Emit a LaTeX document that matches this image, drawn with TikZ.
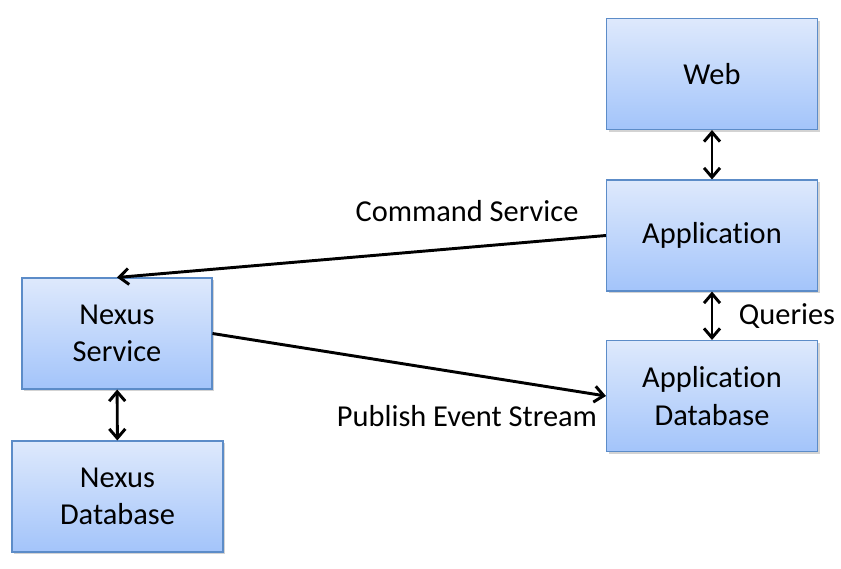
\documentclass[tikz,border=0pt]{standalone}
\usepackage{fontspec}
\setmainfont{Carlito}[Ligatures=NoCommon]
\usepackage{tikz}
\usetikzlibrary{arrows.meta,shadows}
\usetikzlibrary{positioning}

\definecolor{boxtop}{RGB}{222,233,252}
\definecolor{boxbot}{RGB}{163,196,250}
\definecolor{boxline}{RGB}{92,140,200}

\tikzset{
  block/.style={draw=boxline, line width=0.8pt, top color=boxtop, bottom color=boxbot,
    drop shadow={opacity=0.35, shadow xshift=1.5pt, shadow yshift=-1.5pt},
    minimum width=211*0.75pt, minimum height=111*0.75pt, align=center,
    font=\fontsize{22.8}{28}\selectfont, inner sep=0pt},
  link/.style={line width=2.2pt, -{Straight Barb[length=7pt,width=12pt]}},
  twoway/.style={line width=2.2pt, {Straight Barb[length=7pt,width=12pt]}-{Straight Barb[length=7pt,width=12pt]}},
  lbl/.style={font=\fontsize{22.8}{27}\selectfont}
}

\begin{document}
\begin{tikzpicture}[x=0.75pt,y=-0.75pt]
			\useasboundingbox (0,0) rectangle (841,568);
			% right column
			\node[block] (web) at (712,74) {Web};
			\node[block] (app) at (712,235.5) {Application};
			\node[block] (appdb) at (712,396) {Application\\Database};
			% left column
			\node[block, minimum width=190*0.75pt] (nexus) at (117,333.5) {Nexus\\Service};
			\node[block] (nexusdb) at (117.5,496.5) {Nexus\\Database};
			% connectors
			\draw[twoway] (web) -- (app);
			\draw[twoway] (app) -- (appdb);
			\draw[twoway] (nexus) -- (nexusdb);
			\draw[link] (app.west) -- (nexus.north);
			\draw[link] (nexus.east) -- (appdb.west);
			\node[lbl] (cmd) at (467,211) {Command Service};
			\node[lbl] (pub) at (467,416) {Publish Event Stream};
			\node[lbl] (qry) at (787,316) {Queries};
\end{tikzpicture}
\end{document}
